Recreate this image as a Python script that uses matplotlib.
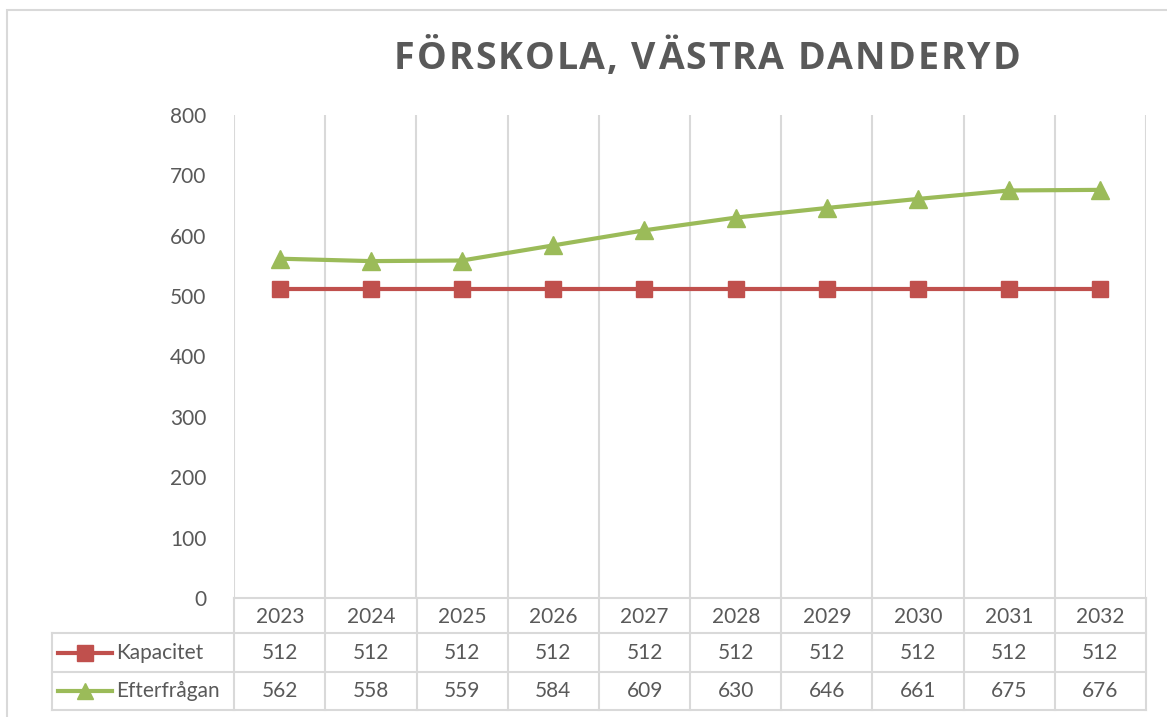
import matplotlib

matplotlib.use("Agg")
import matplotlib.pyplot as plt
from matplotlib.lines import Line2D
from matplotlib.patches import Rectangle

years = ["2023", "2024", "2025", "2026", "2027", "2028", "2029", "2030", "2031", "2032"]
kapacitet = [512, 512, 512, 512, 512, 512, 512, 512, 512, 512]
efterfragan = [562, 558, 559, 584, 609, 630, 646, 661, 675, 676]
series_names = ["Kapacitet", "Efterfrågan"]
y_ticks = [0, 100, 200, 300, 400, 500, 600, 700, 800]
title = "FÖRSKOLA, VÄSTRA DANDERYD"

RED = "#C0504D"
GREEN = "#9BBB59"
GRID = "#D9D9D9"
TEXT = "#595959"
FS = 15

plt.rcParams["font.family"] = ["Lato", "DejaVu Sans"]

W, H = 1167, 717
fig = plt.figure(figsize=(W / 100, H / 100), dpi=100)
fig.patch.set_facecolor("white")


def px_box(x0, y0, x1, y1):
    # pixel box (top-left origin) -> figure fraction rect
    return [x0 / W, 1 - y1 / H, (x1 - x0) / W, (y1 - y0) / H]


# outer chart frame
fig.add_artist(Rectangle((7 / W, -0.1), 1.2, 1 + 0.1 - 10 / H, transform=fig.transFigure,
                         fill=False, edgecolor=GRID, linewidth=1.5))

# title with letter spacing (one text per character)
renderer = fig.canvas.get_renderer()
tkw = dict(fontsize=27, fontweight="bold", color=TEXT, va="center", ha="left",
           family=["Open Sans", "DejaVu Sans"])
widths = []
for ch in title:
    if ch == " ":
        widths.append(9)
        continue
    t = fig.text(0, 0, ch, **tkw)
    widths.append(t.get_window_extent(renderer).width)
    t.remove()
spacing = 2.0
total = sum(widths) + spacing * (len(title) - 1)
cx = 707 - total / 2
for ch, w in zip(title, widths):
    if ch != " ":
        fig.text(cx / W, 1 - 59 / H, ch, **tkw)
    cx += w + spacing

# plot area
n = len(years)
x = list(range(n))
ax = fig.add_axes(px_box(234, 115, 1146, 598))
ax.set_xlim(-0.5, n - 0.5)
ax.set_ylim(0, 800)
for s in ax.spines.values():
    s.set_visible(False)
for b in range(n + 1):
    ax.axvline(b - 0.5, color=GRID, linewidth=1.5, zorder=0)
ax.set_xticks([])
ax.set_yticks(y_ticks)
ax.tick_params(axis="y", length=0, pad=20, labelsize=FS, labelcolor=TEXT)

ax.plot(x, kapacitet, color=RED, linewidth=3, marker="s", markersize=12, zorder=3)
ax.plot(x, efterfragan, color=GREEN, linewidth=3, marker="^", markersize=13, zorder=3)

# data table below the plot
tab = fig.add_axes(px_box(52, 598, 1146, 710))
tab.set_xlim(-2.5, n - 0.5)
tab.set_ylim(710, 598)
tab.axis("off")
rows = [(598, 633), (633, 672), (672, 710)]

for b in range(n + 1):
    tab.plot([b - 0.5, b - 0.5], [598, 710], color=GRID, linewidth=1.5, clip_on=False)
tab.plot([-2.5, -2.5], [633, 710], color=GRID, linewidth=1.5, clip_on=False)
tab.plot([-0.5, n - 0.5], [598, 598], color=GRID, linewidth=1.5, clip_on=False)
for yy in (633, 672, 710):
    tab.plot([-2.5, n - 0.5], [yy, yy], color=GRID, linewidth=1.5, clip_on=False)

for i, yr in enumerate(years):
    tab.text(i, sum(rows[0]) / 2 + 1, yr, ha="center", va="center", fontsize=FS, color=TEXT)

for (y0, y1), name, vals, col, mk in zip(rows[1:], series_names, [kapacitet, efterfragan],
                                         [RED, GREEN], ["s", "^"]):
    yc = (y0 + y1) / 2
    tab.add_line(Line2D([-2.435, -2.14, -1.845], [yc, yc, yc], color=col, linewidth=3,
                        marker=mk, markevery=[1], markersize=12))
    tab.text(-1.8, yc, name, ha="left", va="center", fontsize=FS, color=TEXT)
    for i, v in enumerate(vals):
        tab.text(i, yc, str(v), ha="center", va="center", fontsize=FS, color=TEXT)

fig.savefig("out.png", dpi=100)
